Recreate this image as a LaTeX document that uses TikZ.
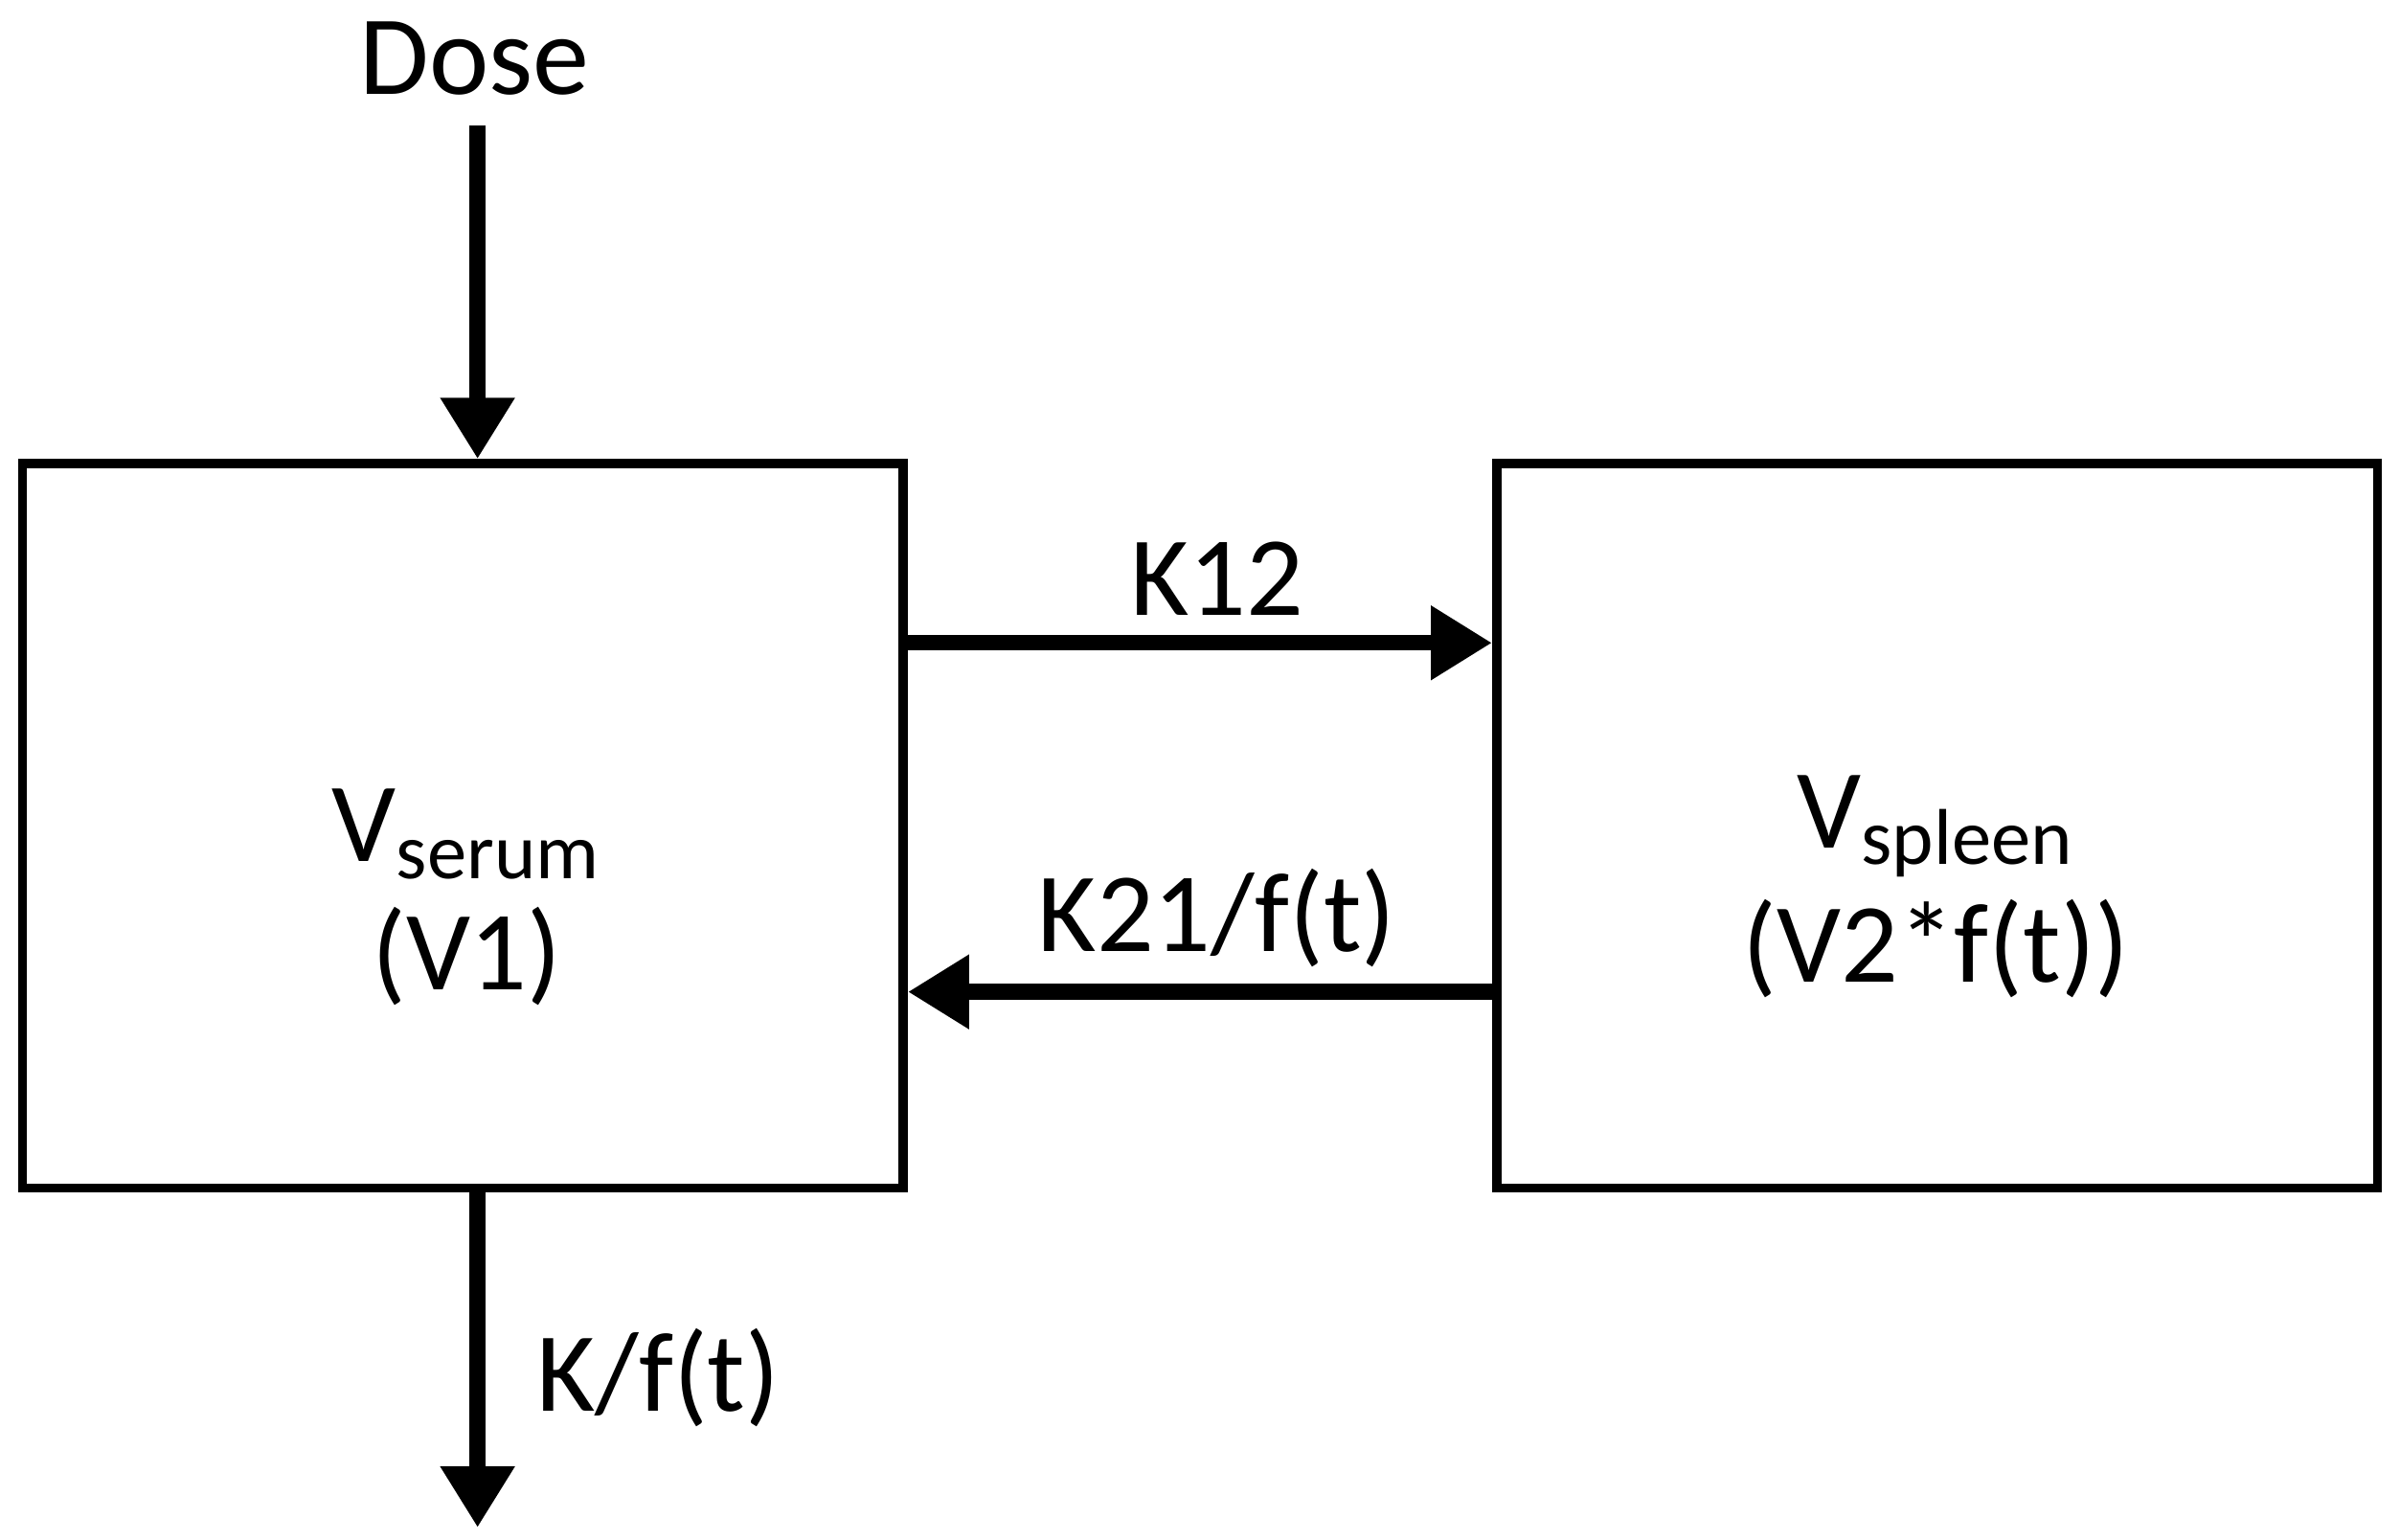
\documentclass[tikz,border=0pt]{standalone}
\usepackage{fontspec}
\setmainfont{Carlito}
\usetikzlibrary{arrows.meta}
\begin{document}
\begin{tikzpicture}[x=0.01cm,y=-0.01cm,
  box/.style={draw,line width=1.7pt,minimum width=5.75cm,minimum height=4.73cm,inner sep=0pt,align=center,font=\fontsize{21}{25}\selectfont},
  lbl/.style={font=\fontsize{21}{25}\selectfont,inner sep=0pt},
  flow/.style={line width=2.9pt,-{Triangle[length=0.4cm,width=0.46cm]}}]
  \useasboundingbox (0,0) rectangle (1568,1006);
  \node[box] (serum) at (302.5,539.5) {};
  \node[box] (spleen) at (1265.5,539.5) {};
  \node[lbl] (vs) at (305,545) {V\textsubscript{serum}};
  \node[lbl] (v1) at (305,625) {(V1)};
  \node[lbl] (vp) at (1265,540) {V\textsubscript{spleen}};
  \node[lbl] (v2) at (1265,620) {(V2*f(t))};
  \node[lbl] (dose) at (310,38) {Dose};
  \node[lbl] (k12) at (795,378) {K12};
  \node[lbl] (k21) at (795,600) {K21/f(t)};
  \node[lbl] (kf) at (430,900) {K/f(t)};
  \coordinate (dtop) at (312,82);
  \coordinate (bend) at (312,998);
  \draw[flow] (dtop) -- (serum.north -| dtop);
  \draw[flow] (serum.east |- 0,420) -- (spleen.west |- 0,420);
  \draw[flow] (spleen.west |- 0,648) -- (serum.east |- 0,648);
  \draw[flow] (serum.south -| bend) -- (bend);
\end{tikzpicture}
\end{document}
